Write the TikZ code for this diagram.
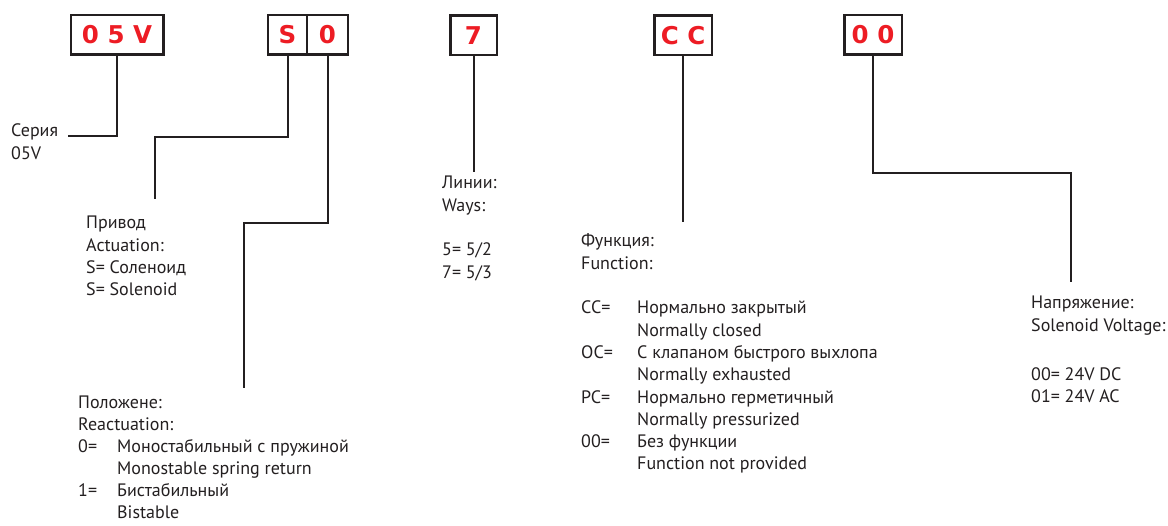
\documentclass[tikz,border=0pt]{standalone}
\usepackage{fontspec}
\setmainfont{PT Sans}
\newfontfamily\boxfont{DejaVu Sans}
\definecolor{codered}{HTML}{ED1C24}
\definecolor{ink}{HTML}{231F20}
\tikzset{
  codebox/.style={draw=ink, line width=2.5pt, inner sep=0pt, minimum height=39.5pt, text=codered, font=\boxfont\bfseries\fontsize{24.5}{26}\selectfont},
  lead/.style={draw=ink, line width=2pt},
  infotext/.style={anchor=base west, inner sep=0pt, text=ink, font=\fontsize{18}{22.3}\selectfont}
}
\newcommand{\infoblock}[1]{\begin{tabular}[t]{@{}l@{}}#1\end{tabular}}
\newcommand{\codetable}[2]{\begin{tabular}[t]{@{}p{#1}@{}l@{}}#2\end{tabular}}
\newcommand{\fullrow}[1]{\multicolumn{2}{@{}l@{}}{#1}}

\begin{document}
\begin{tikzpicture}[x=1pt, y=-1pt]
    \useasboundingbox (0,0) rectangle (1168,526);
    % Code boxes
    \node[codebox, minimum width=92.5pt] (series) at (117,35) {0 5 V};
    \node[codebox, minimum width=39pt] (act) at (287.5,35) {S};
    \node[codebox, minimum width=41pt] (react) at (327.5,35) {0};
    \node[codebox, minimum width=46.5pt] (ways) at (473.5,35.5) {7};
    \node[codebox, minimum width=57.5pt] (func) at (683,35.5) {C C};
    \node[codebox, minimum width=57.5pt] (volt) at (873,35) {0 0};
    % Descriptions
    \node[infotext] (seriestext) at (11,137) {\infoblock{Серия\\05V}};
    \node[infotext] (acttext) at (86,229) {\infoblock{Привод\\Actuation:\\S= Соленоид\\S= Solenoid}};
    \node[infotext, font=\fontsize{18}{22}\selectfont] (reacttext) at (78,409) {\codetable{39pt}{\fullrow{Положене:}\\ \fullrow{Reactuation:}\\
        0= & Моностабильный с пружиной\\ & Monostable spring return\\ 1= & Бистабильный\\ & Bistable}};
    \node[infotext] (waystext) at (442,189) {\infoblock{Линии:\\Ways:\\ \\5= 5/2\\7= 5/3}};
    \node[infotext] (functext) at (581,247) {\codetable{56pt}{\fullrow{Функция:}\\ \fullrow{Function:}\\ \\
        CC= & Нормально закрытый\\ & Normally closed\\ OC= & С клапаном быстрого выхлопа\\ & Normally exhausted\\
        PC= & Нормально герметичный\\ & Normally pressurized\\ 00= & Без функции\\ & Function not provided}};
    \node[infotext] (volttext) at (1031,309) {\infoblock{Напряжение:\\Solenoid Voltage:\\[27pt]00= 24V DC\\01= 24V AC}};
    % Lead line ends
    \coordinate (serieslead) at (68,136);
    \coordinate (actbend) at (155,137);
    \coordinate (actlead) at (155,199);
    \coordinate (reactbend) at (244,223);
    \coordinate (reactlead) at (244,388);
    \coordinate (wayslead) at (ways.south |- 0,172);
    \coordinate (funclead) at (func.south |- 0,222);
    \coordinate (voltbend) at (1071,173);
    \coordinate (voltlead) at (1071,282);
    % Lead lines
    \draw[lead] (series.south) |- (serieslead);
    \draw[lead] (act.south) |- (actbend) -- (actlead);
    \draw[lead] (react.south) |- (reactbend) -- (reactlead);
    \draw[lead] (ways.south) -- (wayslead);
    \draw[lead] (func.south) -- (funclead);
    \draw[lead] (volt.south) |- (voltbend) -- (voltlead);
\end{tikzpicture}
\end{document}
